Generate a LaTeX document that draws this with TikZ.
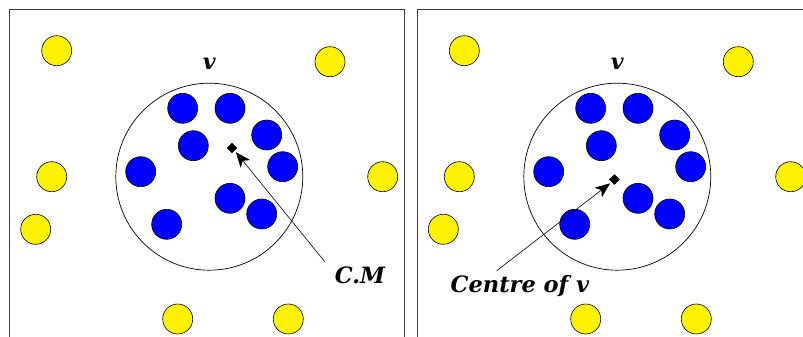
\documentclass[tikz,border=0pt]{standalone}
\usepackage{fontspec}
\setmainfont{DejaVu Serif}
\usetikzlibrary{arrows.meta}
\begin{document}
\begin{tikzpicture}[x=1pt,y=-1pt,
  frameline/.style={draw=black!75,line width=0.8pt},
  yel/.style={circle,draw=black,line width=0.6pt,fill=yellow,minimum size=30pt,inner sep=0pt},
  blu/.style={circle,draw=black,line width=0.6pt,fill=blue,minimum size=30pt,inner sep=0pt},
  bigc/.style={circle,draw=black,line width=0.7pt,minimum size=187pt,inner sep=0pt},
  dia/.style={draw=black,fill=black,minimum size=7pt,inner sep=0pt,rotate=45},
  lbl/.style={font=\bfseries\itshape\fontsize{22.5}{26}\selectfont,inner sep=0pt},
  vlbl/.style={font=\bfseries\itshape\fontsize{22}{26}\selectfont,inner sep=0pt},
  ptr/.style={line width=0.6pt,-{Stealth[length=15pt,width=12pt,inset=4pt]}}]
\useasboundingbox (0,0) rectangle (803,337);
% frames
\draw[frameline] (9,345) -- (9,9) -- (404,9) -- (404,345);
\draw[frameline] (417,345) -- (417,9) -- (815,9);
% ---- left panel ----
\node[bigc] (B1) at (209.3,176.7) {};
\node[vlbl] (v1) at (209.3,64) {v};
\foreach \x/\y/\n in {56.7/50.7/a,330/61.7/b,51.7/176.7/c,382.7/176.7/d,35.7/229.3/e,177.7/319/f,288.3/319/g}
  \node[yel] (L\n) at (\x,\y) {};
\foreach \x/\y/\n in {182.7/108.3/a,230/108.3/b,266.7/135/c,193.3/145.7/d,282.7/166.7/e,140.7/171.7/f,230/198.3/g,261.7/214/h,166.7/224.3/i}
  \node[blu] (LB\n) at (\x,\y) {};
\node[dia] (d1) at (232,148) {};
\node[lbl] (cm) at (360,275) {C.M};
\coordinate (s1) at (325,262);
\draw[ptr,shorten >=2pt] (s1) -- (d1.south);
% ---- right panel ----
\node[bigc] (B2) at (617.3,176.7) {};
\node[vlbl] (v2) at (617.3,64) {v};
\foreach \x/\y/\n in {464.3/50.7/a,738.3/61.7/b,459.3/176.7/c,790.7/176.7/d,443.3/229.3/e,585.7/319/f,696.3/319/g}
  \node[yel] (R\n) at (\x,\y) {};
\foreach \x/\y/\n in {590.7/108.3/a,638/108.3/b,674.7/135/c,601.3/145.7/d,690.7/166.7/e,548.7/171.7/f,638/198.3/g,669.7/214/h,574.7/224.3/i}
  \node[blu] (RB\n) at (\x,\y) {};
\node[dia] (d2) at (614.3,179.5) {};
\node[lbl] (cv) at (520,286) {Centre of v};
\coordinate (s2) at (496.7,270.7);
\draw[ptr,shorten >=2pt] (s2) -- (d2.west);
\end{tikzpicture}
\end{document}
